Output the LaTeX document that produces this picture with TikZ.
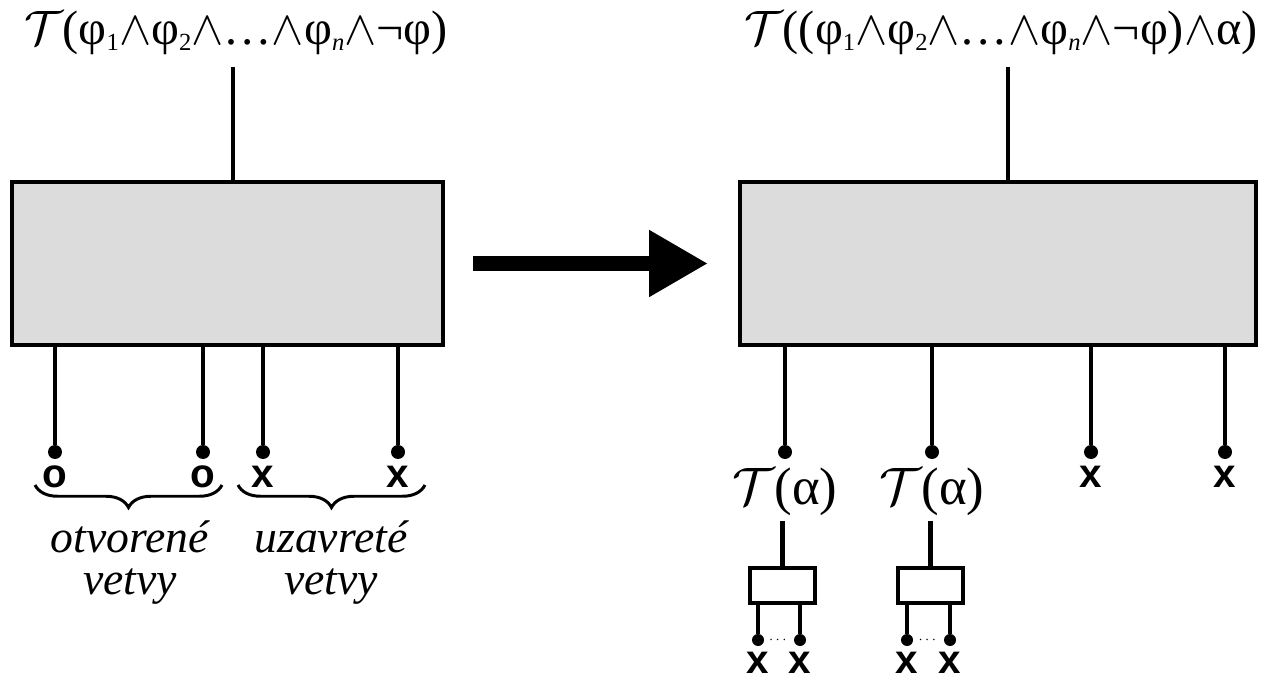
\RequirePackage{fix-cm}
\documentclass[tikz,border=0pt]{standalone}
\usepackage{fontspec}
\usepackage{amsmath}
\setmainfont{Liberation Serif}
\setsansfont{Liberation Sans}
\usetikzlibrary{arrows.meta, positioning, calc, decorations.pathreplacing}
\definecolor{boxgray}{HTML}{DCDCDC}
\newcommand{\Tc}{$\mathcal{T}$}
\newcommand{\an}{$\wedge$}
\newcommand{\sub}[1]{\raisebox{-0.25ex}{\fontsize{14}{14}\selectfont #1}}

\begin{document}
\begin{tikzpicture}[
    every node/.style={inner sep=0pt, outer sep=0pt},
    bigbox/.style={draw, line width=2.4pt, fill=boxgray, minimum height=3.26cm},
    smallbox/.style={draw, line width=2.4pt, fill=white, minimum width=1.3cm, minimum height=0.7cm},
    dot/.style={circle, fill, minimum size=0.28cm},
    sdot/.style={circle, fill, minimum size=0.24cm},
    ln/.style={line width=2.6pt},
    sln/.style={line width=1.8pt},
    formula/.style={font=\fontsize{27.5}{32}\selectfont},
    leaf/.style={font=\fontsize{23}{28}\selectfont\sffamily\bfseries},
    note/.style={font=\fontsize{26}{24}\selectfont\itshape, align=center},
    brc/.style={decorate, decoration={brace, mirror, amplitude=0.45cm}, line width=1.7pt},
    bigarrow/.style={-{Triangle[length=1.18cm, width=1.26cm]}, line width=0.29cm}
]
\useasboundingbox (0,0) rectangle (25.52,-13.66);

% left tree
\node[bigbox, minimum width=8.62cm] (boxL) at (4.55,-5.27) {};
\node[formula] (topL) at (4.72,-0.66) {\Tc(φ\sub{1}\an φ\sub{2}\an\ldots\an φ\sub{\itshape n}\an¬φ)};
\draw[ln] ([yshift=-0.25cm]topL.south -| 4.66,0) -- (4.66,0 |- boxL.north);

\node[dot] (dL1) at (1.1,-9.04) {};
\node[dot] (dL2) at (4.06,-9.04) {};
\node[dot] (dL3) at (5.26,-9.04) {};
\node[dot] (dL4) at (7.96,-9.04) {};
\foreach \d in {dL1,dL2,dL3,dL4}
    \draw[ln] (\d) -- (\d |- boxL.south);

\node[leaf, below=0.14cm of dL1] (oL1) {o};
\node[leaf, below=0.14cm of dL2] (oL2) {o};
\node[leaf, below=0.14cm of dL3] (xL3) {x};
\node[leaf, below=0.14cm of dL4] (xL4) {x};

\draw[brc] (0.7,-9.7) -- (4.44,-9.7);
\draw[brc] (4.76,-9.7) -- (8.5,-9.7);
\node[note] (openTxt) at (2.6,-11.25) {otvorené\\vetvy};
\node[note] (closedTxt) at (6.62,-11.25) {uzavreté\\vetvy};

% transition
\node[bigbox, minimum width=10.32cm] (boxR) at (19.96,-5.27) {};
\draw[bigarrow] ([xshift=0.6cm]boxL.east) -- ([xshift=-0.64cm]boxR.west);

% right tree
\node[formula] (topR) at (20.02,-0.66) {\Tc((φ\sub{1}\an φ\sub{2}\an\ldots\an φ\sub{\itshape n}\an¬φ)\an α)};
\draw[ln] ([yshift=-0.25cm]topR.south -| 20.16,0) -- (20.16,0 |- boxR.north);

\node[dot] (dR1) at (15.7,-9.04) {};
\node[dot] (dR2) at (18.64,-9.04) {};
\node[dot] (dR3) at (21.82,-9.04) {};
\node[dot] (dR4) at (24.5,-9.04) {};
\foreach \d in {dR1,dR2,dR3,dR4}
    \draw[ln] (\d) -- (\d |- boxR.south);

\node[leaf, below=0.14cm of dR3] (xR3) {x};
\node[leaf, below=0.14cm of dR4] (xR4) {x};

\node[formula, font=\fontsize{30}{34}\selectfont, below=0.18cm of dR1] (ta1) {\Tc(α)};
\node[formula, font=\fontsize{30}{34}\selectfont, below=0.18cm of dR2] (ta2) {\Tc(α)};
\node[smallbox] (sb1) at (15.65,-11.71) {};
\node[smallbox] (sb2) at (18.61,-11.71) {};
\draw[ln] ([yshift=-0.1cm]ta1.south -| sb1.north) -- (sb1.north);
\draw[ln] ([yshift=-0.1cm]ta2.south -| sb2.north) -- (sb2.north);

\node[sdot] (s11) at (15.16,-12.8) {};
\node[sdot] (s12) at (16.0,-12.8) {};
\node[sdot] (s21) at (18.14,-12.8) {};
\node[sdot] (s22) at (19.0,-12.8) {};
\foreach \d/\b in {s11/sb1,s12/sb1,s21/sb2,s22/sb2}
    \draw[sln] (\d) -- (\d |- \b.south);
\node[font=\footnotesize] (dots1) at ($(s11)!0.5!(s12)$) {$\cdots$};
\node[font=\footnotesize] (dots2) at ($(s21)!0.5!(s22)$) {$\cdots$};

\node[leaf, below=0.12cm of s11] (x11) {x};
\node[leaf, below=0.12cm of s12] (x12) {x};
\node[leaf, below=0.12cm of s21] (x21) {x};
\node[leaf, below=0.12cm of s22] (x22) {x};

\end{tikzpicture}
\end{document}
